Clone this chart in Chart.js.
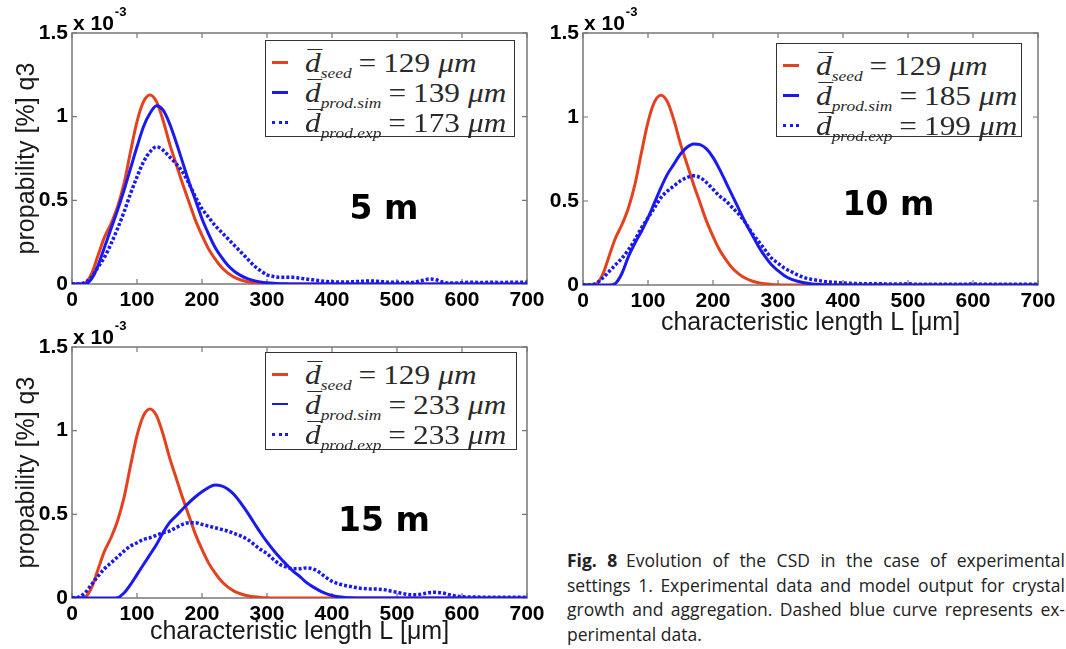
<!DOCTYPE html>
<html><head><meta charset="utf-8">
<script src="https://cdn.jsdelivr.net/npm/chart.js@4.4.1/dist/chart.umd.min.js"></script>
<style>
html,body{margin:0;padding:0;background:#fff}
body{width:1066px;height:649px;position:relative;overflow:hidden}
canvas{position:absolute}
.leg{position:absolute;background:#fff;border:1.5px solid #333;box-sizing:border-box}
.row{position:absolute;left:0;width:100%;height:30px}
.smp{position:absolute;left:6px;top:13px;width:16px;height:0;border-top:3px solid}
.txt{position:absolute;top:0;font-family:'Liberation Serif',serif;font-size:27px;line-height:30px;color:#2a2a2a;white-space:nowrap;transform:scaleX(1.16);transform-origin:0 50%}
.db{font-style:italic;position:relative}
.db::before{content:'';position:absolute;left:2px;right:-1px;top:1px;border-top:1.5px solid #2a2a2a}
.sb{font-style:italic;font-size:15px;position:relative;top:6px}
.eq{margin:0 6px 0 6px}
.it{font-style:italic;margin-left:7px}
.cap{position:absolute;left:567px;width:498px;font-family:'Open Sans',sans-serif;font-size:17.5px;line-height:24.7px;color:#222}
.cap div{text-align:justify;text-align-last:justify;white-space:nowrap}
.cap div.last{text-align-last:left}
</style></head>
<body>
<canvas id="c1" width="560" height="320" style="left:0;top:0"></canvas>
<canvas id="c2" width="536" height="345" style="left:530px;top:0"></canvas>
<canvas id="c3" width="560" height="329" style="left:0;top:320px"></canvas>
<div id="leg1" class="leg" style="left:265px;top:40px;width:250px;height:97px"></div>
<div id="leg2" class="leg" style="left:776px;top:43px;width:246px;height:94px"></div>
<div id="leg3" class="leg" style="left:265px;top:352px;width:252px;height:98px"></div>
<div class="cap" style="top:548px">
<div><b>Fig. 8</b>&ensp;Evolution of the CSD in the case of experimental</div>
<div>settings 1. Experimental data and model output for crystal</div>
<div>growth and aggregation. Dashed blue curve represents ex-</div>
<div class="last">perimental data.</div>
</div>
<script>
// characteristic length L [µm]
const lengthsUm = [0,10,20,30,40,50,60,70,80,90,100,110,120,130,140,150,160,170,180,190,200,210,220,230,240,250,260,270,280,290,300,310,320,330,340,350,360,370,380,390,400,410,420,430,440,450,460,470,480,490,500,510,520,530,540,550,560,570,580,590,600,610,620,630,640,650,660,670,680,690,700];
// q3 values in units of 1e-3
const seedQ3 = [0,0,0.005,0.06,0.17,0.28,0.36,0.46,0.60,0.79,
 0.97,1.09,1.13,1.09,0.98,0.84,0.72,0.60,0.49,0.38,
 0.29,0.21,0.15,0.10,0.065,0.04,0.024,0.013,0.007,0.003,
 0.001,0,0,0,0,0,0,0,0,0,
 0,0,0,0,0,0,0,0,0,0,
 0,0,0,0,0,0,0,0,0,0,
 0,0,0,0,0,0,0,0,0,0,0];
const sim5 = [0,0,0,0.03,0.11,0.22,0.33,0.44,0.56,0.69,
 0.82,0.94,1.02,1.065,1.04,0.96,0.85,0.73,0.61,0.50,
 0.39,0.30,0.22,0.16,0.11,0.075,0.05,0.032,0.02,0.012,
 0.007,0.004,0.002,0.001,0,0,0,0,0,0,
 0,0,0,0,0,0,0,0,0,0,
 0,0,0,0,0,0,0,0,0,0,
 0,0,0,0,0,0,0,0,0,0,0];
const exp5 = [0,0,0.01,0.04,0.10,0.16,0.24,0.33,0.43,0.54,
 0.64,0.73,0.79,0.82,0.80,0.76,0.72,0.67,0.60,0.52,
 0.45,0.40,0.35,0.31,0.27,0.23,0.19,0.15,0.11,0.08,
 0.055,0.045,0.04,0.04,0.04,0.035,0.03,0.025,0.02,0.016,
 0.013,0.012,0.012,0.013,0.015,0.017,0.018,0.016,0.013,0.01,
 0.01,0.009,0.009,0.013,0.022,0.03,0.025,0.012,0.006,0.006,
 0.008,0.01,0.01,0.009,0.01,0.01,0.009,0.01,0.01,0.01,0.01];
const sim10 = [0,0,0,0,0,0.01,0.07,0.17,0.25,0.32,
 0.40,0.49,0.58,0.66,0.72,0.78,0.82,0.84,0.835,0.81,
 0.76,0.69,0.61,0.53,0.45,0.37,0.30,0.23,0.17,0.12,
 0.085,0.055,0.035,0.022,0.013,0.008,0.004,0.002,0.001,0,
 0,0,0,0,0,0,0,0,0,0,
 0,0,0,0,0,0,0,0,0,0,
 0,0,0,0,0,0,0,0,0,0,0];
const exp10 = [0,0,0.01,0.04,0.08,0.12,0.16,0.21,0.27,0.34,
 0.40,0.46,0.52,0.56,0.59,0.62,0.64,0.65,0.64,0.61,
 0.57,0.53,0.50,0.46,0.42,0.37,0.31,0.26,0.21,0.16,
 0.13,0.10,0.08,0.06,0.045,0.035,0.028,0.022,0.018,0.015,
 0.012,0.010,0.009,0.008,0.008,0.007,0.007,0.006,0.006,0.006,
 0.007,0.005,0.004,0.004,0.004,0.004,0.004,0.005,0.005,0.005,
 0.006,0.005,0.004,0.004,0.004,0.004,0.004,0.004,0.004,0.004,0.004];
const sim15 = [0,0,0,0,0,0,0,0.002,0.03,0.08,
 0.14,0.20,0.26,0.32,0.39,0.45,0.49,0.53,0.57,0.605,
 0.635,0.66,0.675,0.67,0.65,0.615,0.565,0.51,0.45,0.39,
 0.335,0.285,0.24,0.20,0.16,0.13,0.095,0.068,0.046,0.028,
 0.015,0.007,0.003,0.001,0,0,0,0,0,0,
 0,0,0,0,0,0,0,0,0,0,
 0,0,0,0,0,0,0,0,0,0,0];
const exp15 = [0,0.005,0.03,0.08,0.13,0.175,0.21,0.245,0.28,0.31,
 0.33,0.35,0.36,0.375,0.39,0.40,0.42,0.44,0.45,0.45,
 0.44,0.43,0.42,0.41,0.40,0.385,0.37,0.35,0.32,0.29,
 0.265,0.23,0.20,0.185,0.175,0.175,0.18,0.175,0.155,0.125,
 0.10,0.085,0.075,0.068,0.06,0.056,0.054,0.053,0.05,0.042,
 0.034,0.026,0.02,0.02,0.025,0.032,0.034,0.03,0.02,0.012,
 0.008,0.006,0.006,0.005,0.005,0.005,0.005,0.005,0.005,0.005,0.005];
const xTickLabels = ['0','100','200','300','400','500','600','700'];
const yTickLabels = ['0','0.5','1','1.5'];
const panelLabels = ['5 m','10 m','15 m'];
const meanSeed = [129,129,129];
const meanSim = [139,185,233];
const meanExp = [173,199,233];

const RED = '#e4411f', BLUE = '#1a1af0';
const X_TITLE = 'characteristic length L [\u03bcm]';
const Y_TITLE = 'propability [%] q3';

const pts = arr => lengthsUm.map((L,i)=>({x:L, y:arr[i]}));

const framePlugin = {
  id:'frame',
  beforeDatasetsDraw(chart){
    const {ctx, chartArea:{left,right,top,bottom}, scales:{x,y}} = chart;
    ctx.save();
    ctx.strokeStyle='#777'; ctx.lineWidth=1.5;
    ctx.strokeRect(left,top,right-left,bottom-top);
    ctx.lineWidth=1.2;
    ctx.beginPath();
    x.ticks.forEach(t=>{const p=x.getPixelForValue(t.value);
      ctx.moveTo(p,bottom); ctx.lineTo(p,bottom-5); ctx.moveTo(p,top); ctx.lineTo(p,top+5);});
    y.ticks.forEach(t=>{const p=y.getPixelForValue(t.value);
      ctx.moveTo(left,p); ctx.lineTo(left+5,p); ctx.moveTo(right,p); ctx.lineTo(right-5,p);});
    ctx.stroke();
    ctx.restore();
  },
  afterDatasetsDraw(chart, args, opts){
    const {ctx, chartArea:{left,top}, scales:{x,y}} = chart;
    ctx.save();
    ctx.fillStyle='#000';
    ctx.font='bold 33px "DejaVu Sans"'; ctx.textAlign='center'; ctx.textBaseline='middle';
    ctx.fillText(opts.label, x.getPixelForValue(opts.lx), y.getPixelForValue(opts.ly));
    ctx.textAlign='left'; ctx.textBaseline='alphabetic';
    ctx.font='bold 21px "Liberation Sans"';
    ctx.fillText('x 10', left+1, top-3);
    const w = ctx.measureText('x 10').width;
    ctx.font='bold 13px "Liberation Sans"';
    ctx.fillText('-3', left+2+w, top-17);
    ctx.restore();
  }
};

function makeChart(id, k, sim, exp, c){
  return new Chart(document.getElementById(id), {
    type:'line',
    data:{datasets:[
      {data:pts(seedQ3), borderColor:RED, borderWidth:3, order:3},
      {data:pts(sim), borderColor:BLUE, borderWidth:3, order:2},
      {data:pts(exp), borderColor:BLUE, borderWidth:3.5, borderDash:[3,2], order:1}
    ]},
    options:{
      responsive:false, animation:false, events:[],
      layout:{padding:{left:0, top:c.padTop, right:c.padRight, bottom:0}},
      elements:{point:{radius:0}, line:{cubicInterpolationMode:'monotone', borderCapStyle:'butt', fill:false}},
      plugins:{legend:{display:false}, tooltip:{enabled:false},
        frame:{label:panelLabels[k], lx:c.lx, ly:c.ly}},
      scales:{
        x:{type:'linear', min:0, max:700,
          ticks:{stepSize:100, padding:4, color:'#000', maxRotation:0, autoSkip:false,
            font:{family:'Liberation Sans', weight:'bold', size:21},
            callback:(v,i)=>xTickLabels[i]},
          grid:{display:false, drawTicks:false}, border:{display:false},
          title:{display:c.xTitle, text:X_TITLE, color:'#1a1a1a',
            font:{family:'Liberation Sans', size:25}, padding:{top:0,bottom:c.xTitlePad}},
          afterFit:s=>{s.height=c.xH;}},
        y:{type:'linear', min:0, max:1.5,
          ticks:{stepSize:0.5, padding:4, color:'#000',
            font:{family:'Liberation Sans', weight:'bold', size:21},
            callback:(v,i)=>yTickLabels[i]},
          grid:{display:false, drawTicks:false}, border:{display:false},
          title:{display:c.yTitle, text:Y_TITLE, color:'#1a1a1a',
            font:{family:'Liberation Sans', size:25}, padding:{top:12,bottom:0}},
          afterFit:s=>{s.width=c.yW;}}
      }
    },
    plugins:[framePlugin]
  });
}

makeChart('c1',0,sim5,exp5,{padTop:33,padRight:33,xH:36,yW:72,xTitle:false,yTitle:true,xTitlePad:0,lx:480,ly:0.44});
makeChart('c2',1,sim10,exp10,{padTop:33,padRight:28,xH:60,yW:53,xTitle:true,yTitle:false,xTitlePad:7,lx:470,ly:0.465});
makeChart('c3',2,sim15,exp15,{padTop:27,padRight:33,xH:51,yW:72,xTitle:true,yTitle:true,xTitlePad:2,lx:480,ly:0.45});

function buildLegend(id, k, thinSim){
  const el = document.getElementById(id);
  const rows = [
    {col:RED, dash:false, sub:'seed', val:meanSeed[k]},
    {col:BLUE, dash:false, sub:'prod.sim', val:meanSim[k], thin:thinSim},
    {col:BLUE, dash:true, sub:'prod.exp', val:meanExp[k]}
  ];
  rows.forEach((r,i)=>{
    const row=document.createElement('div'); row.className='row'; row.style.top=(7+30*i)+'px';
    const s=document.createElement('span'); s.className='smp';
    s.style.borderTopColor=r.col; s.style.borderTopStyle=r.dash?'dotted':'solid';
    if(r.thin) s.style.borderTopWidth='2px';
    const t=document.createElement('span'); t.className='txt'; t.style.left='39px';
    t.innerHTML='<span class="db">d</span><span class="sb">'+r.sub+'</span><span class="eq">=</span>'+r.val+'<span class="it">\u03bcm</span>';
    row.appendChild(s); row.appendChild(t); el.appendChild(row);
  });
}
buildLegend('leg1',0,false);
buildLegend('leg2',1,false);
buildLegend('leg3',2,true);
</script>
</body></html>
